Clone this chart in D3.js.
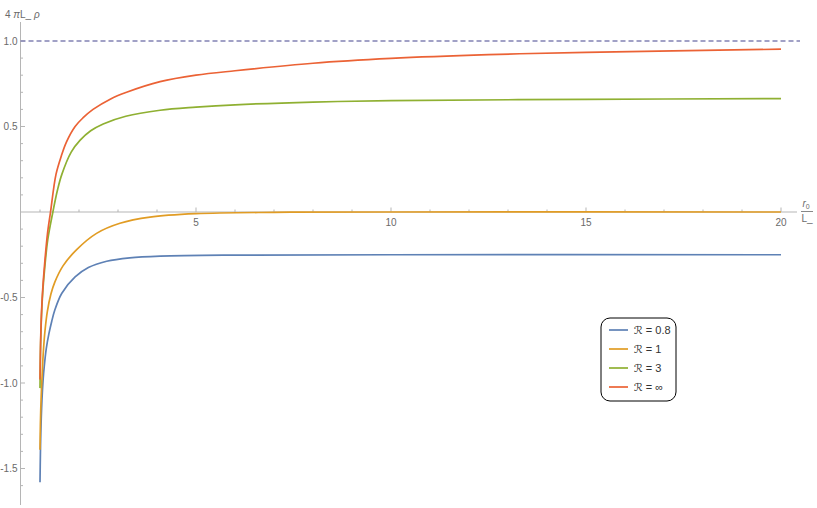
<!DOCTYPE html>
<html><head><meta charset="utf-8">
<script src="https://cdn.jsdelivr.net/npm/d3@7"></script>
<style>body{margin:0;background:#fff;}svg{display:block;}</style>
</head><body>
<svg id="c" width="817" height="508"></svg>
<script>
// --- data ---
const seriesNames = ["ℛ = 0.8", "ℛ = 1", "ℛ = 3", "ℛ = ∞"];
const colors = ["#5E81B5", "#E19C24", "#8FB032", "#EB6235"];
const xBlue = [1.0, 1.01, 1.02, 1.05, 1.08, 1.11, 1.16, 1.23, 1.3, 1.38, 1.56, 1.9, 2.24, 2.71, 3.3, 4.08, 6, 10, 20];
const yBlue = [-1.58, -1.42, -1.3, -1.1, -0.98, -0.9, -0.8, -0.71, -0.64, -0.573, -0.475, -0.38, -0.325, -0.288, -0.268, -0.258, -0.252, -0.25, -0.25];
const xOrange = [1.0, 1.01, 1.03, 1.06, 1.085, 1.13, 1.19, 1.28, 1.38, 1.59, 1.94, 2.45, 3.05, 3.82, 5, 7, 10, 20];
const yOrange = [-1.39, -1.24, -1.08, -0.93, -0.82, -0.69, -0.58, -0.48, -0.41, -0.315, -0.22, -0.125, -0.066, -0.03, -0.01, -0.002, 0, 0];
const xGreen = [1.0, 1.01, 1.02, 1.04, 1.07, 1.12, 1.2, 1.33, 1.45, 1.56, 1.8, 2.03, 2.3, 2.62, 3.2, 4.08, 5, 6, 8, 10, 15, 20];
const yGreen = [-1.03, -0.85, -0.74, -0.6, -0.47, -0.33, -0.16, 0.0, 0.13, 0.22, 0.35, 0.42, 0.475, 0.515, 0.56, 0.595, 0.613, 0.627, 0.643, 0.651, 0.659, 0.663];
const xRed = [1.0, 1.01, 1.02, 1.04, 1.07, 1.12, 1.19, 1.27, 1.41, 1.55, 1.68, 1.9, 2.1, 2.36, 2.8, 3.22, 4.08, 5, 6, 8, 10, 12.5, 15, 20];
const yRed = [-0.98, -0.82, -0.72, -0.58, -0.45, -0.3, -0.13, 0.0, 0.22, 0.33, 0.41, 0.5, 0.55, 0.6, 0.66, 0.7, 0.762, 0.8, 0.826, 0.87, 0.898, 0.92, 0.934, 0.952];
const refLevel = 1.0;
const xMajorTicks = [5, 10, 15, 20];
const yMajorTicks = [-1.5, -1.0, -0.5, 0.5, 1.0];
const yTickLabels = ["-1.5", "-1.0", "-0.5", "0.5", "1.0"];

const seriesX = [xBlue, xOrange, xGreen, xRed];
const seriesY = [yBlue, yOrange, yGreen, yRed];

// --- layout ---
const svg = d3.select("#c");
const x = d3.scaleLinear().domain([0, 20]).range([1, 781]);
const y = d3.scaleLinear().domain([0, 1]).range([212, 41]);
const axisColor = "#b5b5b5";
const textColor = "#6a6a6a";
const font = "Liberation Sans, Arial, sans-serif";
const x0 = 0.5;   // where the vertical axis sits

// horizontal axis
svg.append("line").attr("x1", x(x0)).attr("x2", 797).attr("y1", y(0)).attr("y2", y(0))
  .attr("stroke", axisColor).attr("stroke-width", 1);
// vertical axis
svg.append("line").attr("x1", x(x0)).attr("x2", x(x0)).attr("y1", 22).attr("y2", 505)
  .attr("stroke", axisColor).attr("stroke-width", 1);

// x ticks
const xMinor = d3.range(1, 21).filter(v => !xMajorTicks.includes(v));
svg.selectAll(".xmin").data(xMinor).join("line")
  .attr("x1", d => x(d)).attr("x2", d => x(d)).attr("y1", y(0)).attr("y2", y(0) - 2.5)
  .attr("stroke", axisColor);
svg.selectAll(".xmaj").data(xMajorTicks).join("line")
  .attr("x1", d => x(d)).attr("x2", d => x(d)).attr("y1", y(0)).attr("y2", y(0) - 4.5)
  .attr("stroke", axisColor);
svg.selectAll(".xlab").data(xMajorTicks).join("text")
  .attr("x", d => x(d)).attr("y", y(0) + 14).attr("text-anchor", "middle")
  .attr("font-family", font).attr("font-size", 10).attr("fill", textColor).text(d => d);

// y ticks
const yMinor = d3.range(-16, 11).map(v => v / 10).filter(v => Math.abs(v) > 1e-9 && !yMajorTicks.some(m => Math.abs(m - v) < 1e-9));
svg.selectAll(".ymin").data(yMinor).join("line")
  .attr("x1", x(x0)).attr("x2", x(x0) + 2.5).attr("y1", d => y(d)).attr("y2", d => y(d))
  .attr("stroke", axisColor);
svg.selectAll(".ymaj").data(yMajorTicks).join("line")
  .attr("x1", x(x0)).attr("x2", x(x0) + 4.5).attr("y1", d => y(d)).attr("y2", d => y(d))
  .attr("stroke", axisColor);
svg.selectAll(".ylab").data(yMajorTicks).join("text")
  .attr("x", x(x0) - 3).attr("y", d => y(d) + 3.5).attr("text-anchor", "end")
  .attr("font-family", font).attr("font-size", 10).attr("fill", textColor)
  .text((d, i) => yTickLabels[i]);

// axis labels
const yl = svg.append("text").attr("x", 5).attr("y", 18).attr("font-family", font)
  .attr("font-size", 10).attr("fill", textColor);
yl.append("tspan").text("4 ");
yl.append("tspan").attr("font-style", "italic").text("π");
yl.append("tspan").text("L_ ");
yl.append("tspan").attr("font-style", "italic").text("ρ");

const xl = svg.append("g").attr("font-family", font).attr("font-size", 10).attr("fill", textColor);
const xt = xl.append("text").attr("x", 806).attr("y", 207).attr("text-anchor", "middle");
xt.append("tspan").attr("font-style", "italic").text("r");
xt.append("tspan").attr("font-size", 7).attr("dy", 2).text("0");
xl.append("line").attr("x1", 801).attr("x2", 813).attr("y1", 211.5).attr("y2", 211.5)
  .attr("stroke", textColor).attr("stroke-width", 0.8);
xl.append("text").attr("x", 807).attr("y", 222).attr("text-anchor", "middle").text("L_");

// dashed reference line
svg.append("line").attr("x1", x(x0)).attr("x2", 800).attr("y1", y(refLevel)).attr("y2", y(refLevel))
  .attr("stroke", "#8282b4").attr("stroke-width", 1.3).attr("stroke-dasharray", "5,3");

// curves
const line = d3.line().x(d => x(d[0])).y(d => y(d[1])).curve(d3.curveCatmullRom.alpha(0.5));
seriesX.forEach((xs, i) => {
  const pts = xs.map((v, j) => [v, seriesY[i][j]]);
  svg.append("path").attr("d", line(pts)).attr("fill", "none")
    .attr("stroke", colors[i]).attr("stroke-width", 1.7).attr("stroke-linejoin", "round");
});

// legend
const lg = svg.append("g").attr("transform", "translate(601,318)");
lg.append("rect").attr("x", 0).attr("y", 0).attr("width", 75).attr("height", 83)
  .attr("rx", 9).attr("ry", 9).attr("fill", "#fff").attr("stroke", "#000").attr("stroke-width", 1);
seriesNames.forEach((n, i) => {
  const yy = 12 + i * 19;
  lg.append("line").attr("x1", 8).attr("x2", 27).attr("y1", yy).attr("y2", yy)
    .attr("stroke", colors[i]).attr("stroke-width", 1.7);
  const t = lg.append("text").attr("x", 33).attr("y", yy + 4).attr("font-family", font)
    .attr("font-size", 11).attr("fill", "#333");
  t.append("tspan").attr("font-family", "DejaVu Sans").attr("font-style", "italic").text(n.slice(0, 1));
  t.append("tspan").text(n.slice(1));
});
</script>
</body></html>
